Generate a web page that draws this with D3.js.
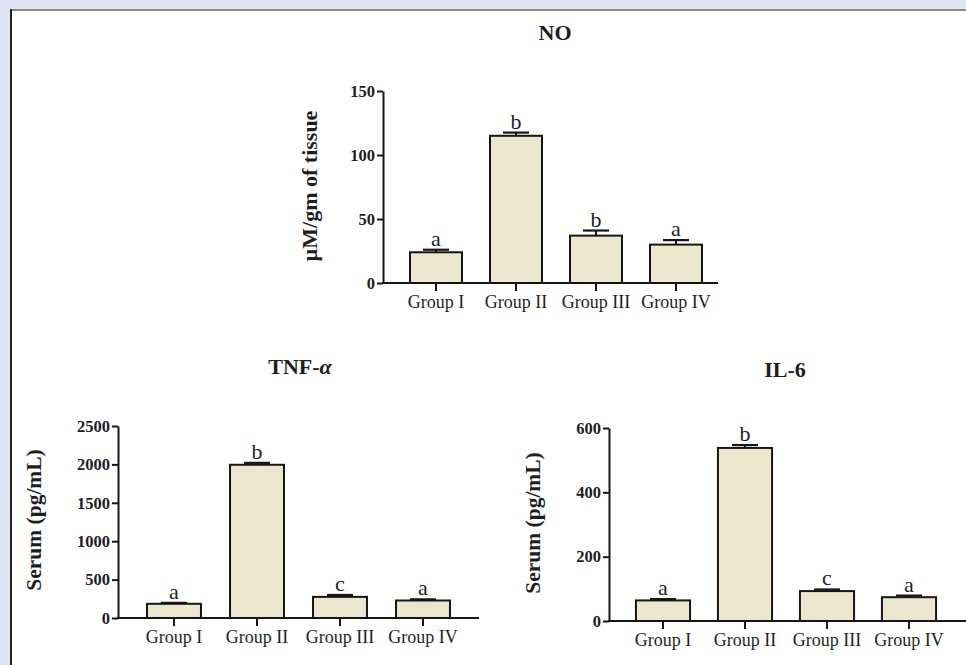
<!DOCTYPE html>
<html>
<head>
<meta charset="utf-8">
<script src="https://cdn.jsdelivr.net/npm/d3@7"></script>
<style>
  html, body { margin: 0; padding: 0; background: #dfe3f2; }
  svg { display: block; }
  text { font-family: "Liberation Serif", "Times New Roman", serif; fill: #1e1e1e; }
</style>
</head>
<body>
<svg id="fig" width="966" height="665"></svg>
<script>
// Group names shared by all three panels
const groups = ["Group I", "Group II", "Group III", "Group IV"];

// Nitric oxide in tissue (µM/gm)
const noMeans = [24, 115, 37, 30];
const noErrors = [2, 2.5, 4, 3.5];
const noLetters = ["a", "b", "b", "a"];
const noTicks = [0, 50, 100, 150];

// Serum TNF-α (pg/mL)
const tnfMeans = [185, 1995, 275, 228];
const tnfErrors = [12, 25, 25, 15];
const tnfLetters = ["a", "b", "c", "a"];
const tnfTicks = [0, 500, 1000, 1500, 2000, 2500];

// Serum IL-6 (pg/mL)
const il6Means = [64, 538, 93, 74];
const il6Errors = [4, 9, 5, 5];
const il6Letters = ["a", "b", "c", "a"];
const il6Ticks = [0, 200, 400, 600];

const svg = d3.select("#fig");

// white page with its frame edges
svg.append("rect").attr("x", 10).attr("y", 9).attr("width", 956).attr("height", 656).attr("fill", "#ffffff");
svg.append("line").attr("x1", 10).attr("x2", 966).attr("y1", 10).attr("y2", 10).attr("stroke", "#8a8a8a").attr("stroke-width", 2);
svg.append("line").attr("x1", 11).attr("x2", 11).attr("y1", 9).attr("y2", 665).attr("stroke", "#222").attr("stroke-width", 2);

function drawPanel(p) {
  const g = svg.append("g");
  const x = d3.scaleBand().domain(groups).range(p.xRange)
    .paddingInner(p.pad).paddingOuter(p.pad / 2);
  const y = d3.scaleLinear().domain([0, d3.max(p.ticks)]).range([p.y0, p.yTop]);

  // bars
  const data = groups.map((k, i) => ({ k, m: p.means[i], e: p.errors[i], l: p.letters[i] }));
  g.selectAll("rect.bar").data(data).join("rect")
    .attr("class", "bar")
    .attr("x", d => x(d.k))
    .attr("width", x.bandwidth())
    .attr("y", d => y(d.m))
    .attr("height", d => y(0) - y(d.m))
    .attr("fill", "#ebe6cd")
    .attr("stroke", "#161616")
    .attr("stroke-width", 2);

  // upper error bars
  const cx = d => x(d.k) + x.bandwidth() / 2;
  g.selectAll("line.err").data(data).join("line")
    .attr("class", "err")
    .attr("x1", cx).attr("x2", cx)
    .attr("y1", d => y(d.m)).attr("y2", d => y(d.m + d.e))
    .attr("stroke", "#161616").attr("stroke-width", 2);
  g.selectAll("line.cap").data(data).join("line")
    .attr("class", "cap")
    .attr("x1", d => cx(d) - 13).attr("x2", d => cx(d) + 13)
    .attr("y1", d => y(d.m + d.e)).attr("y2", d => y(d.m + d.e))
    .attr("stroke", "#161616").attr("stroke-width", 2.2);

  // significance letters
  g.selectAll("text.sig").data(data).join("text")
    .attr("class", "sig")
    .attr("x", cx)
    .attr("y", d => y(d.m + d.e) - 4)
    .attr("text-anchor", "middle")
    .attr("font-size", 22)
    .text(d => d.l);

  // y axis
  const ya = g.append("g").attr("transform", `translate(${p.axisX},0)`)
    .call(d3.axisLeft(y).tickValues(p.ticks).tickFormat(d3.format("d"))
      .tickSize(6).tickSizeOuter(0).tickPadding(2));
  ya.attr("font-family", null);
  ya.select(".domain").attr("stroke", "#161616").attr("stroke-width", 2);
  ya.selectAll(".tick line").attr("stroke", "#161616").attr("stroke-width", 2);
  ya.selectAll(".tick text")
    .style("font-family", "'Liberation Serif', serif")
    .style("font-size", "16.5px").style("font-weight", "bold").style("fill", "#1e1e1e");

  // x axis: baseline runs from the y axis to the panel edge
  g.append("line").attr("x1", p.axisX - 1).attr("x2", p.xEnd)
    .attr("y1", p.y0).attr("y2", p.y0)
    .attr("stroke", "#161616").attr("stroke-width", 2);
  const xa = g.append("g").attr("transform", `translate(0,${p.y0})`)
    .call(d3.axisBottom(x).tickSize(8).tickPadding(4));
  xa.attr("font-family", null);
  xa.select(".domain").remove();
  xa.selectAll(".tick line").attr("stroke", "#161616").attr("stroke-width", 2);
  xa.selectAll(".tick text")
    .style("font-family", "'Liberation Serif', serif")
    .style("font-size", "18px").style("fill", "#1e1e1e");

  // title
  const t = g.append("text").attr("x", p.titleX).attr("y", p.titleY)
    .attr("text-anchor", "middle").attr("font-size", 22).attr("font-weight", "bold");
  p.title.forEach(part => {
    const s = t.append("tspan").text(part.text);
    if (part.italic) s.attr("font-style", "italic");
  });

  // y-axis label
  g.append("text")
    .attr("transform", `translate(${p.labelX},${p.labelY}) rotate(-90)`)
    .attr("text-anchor", "middle").attr("font-size", p.labelSize).attr("font-weight", "bold")
    .text(p.yLabel);
}

drawPanel({
  means: noMeans, errors: noErrors, letters: noLetters, ticks: noTicks,
  xRange: [396, 716], pad: 0.35, axisX: 383, xEnd: 718, y0: 283, yTop: 91,
  title: [{ text: "NO" }], titleX: 555, titleY: 40,
  yLabel: "µM/gm of tissue", labelSize: 22, labelX: 317, labelY: 186
});

drawPanel({
  means: tnfMeans, errors: tnfErrors, letters: tnfLetters, ticks: tnfTicks,
  xRange: [132.5, 464.5], pad: 0.35, axisX: 118, xEnd: 479, y0: 618, yTop: 426,
  title: [{ text: "TNF-" }, { text: "α", italic: true }], titleX: 300, titleY: 374,
  yLabel: "Serum (pg/mL)", labelSize: 21.5, labelX: 41, labelY: 520
});

drawPanel({
  means: il6Means, errors: il6Errors, letters: il6Letters, ticks: il6Ticks,
  xRange: [622, 950], pad: 0.34, axisX: 609, xEnd: 966, y0: 621, yTop: 428,
  title: [{ text: "IL-6" }], titleX: 785, titleY: 377,
  yLabel: "Serum (pg/mL)", labelSize: 21.5, labelX: 540, labelY: 523
});
</script>
</body>
</html>
